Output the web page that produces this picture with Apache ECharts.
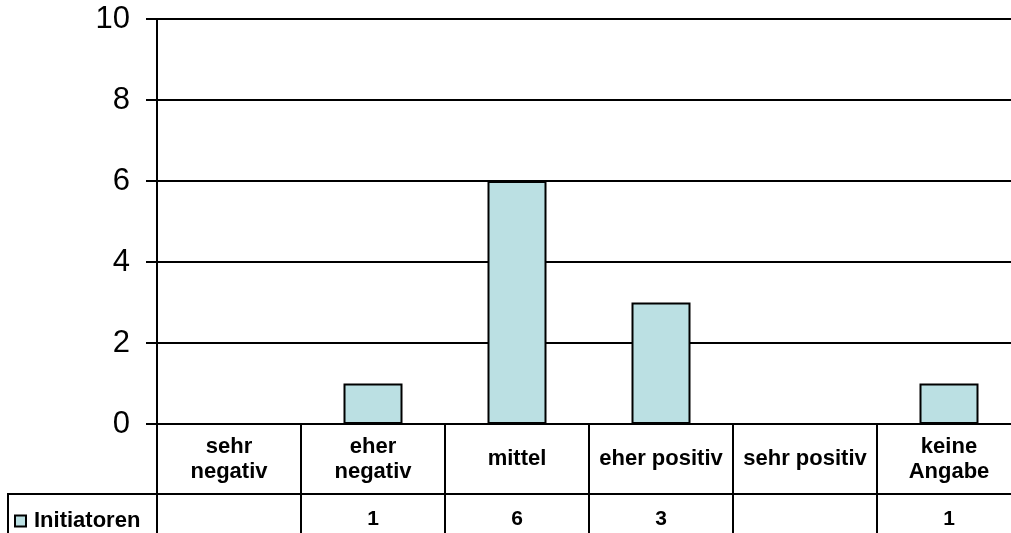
<!DOCTYPE html>
<html>
<head>
<meta charset="utf-8">
<script src="https://cdn.jsdelivr.net/npm/echarts@6/dist/echarts.min.js"></script>
<style>
  html, body { margin: 0; padding: 0; background: #fff; overflow: hidden; }
  /* the plot area runs slightly past the right edge of the window */
  #chart { width: 1022px; height: 533px; }
</style>
</head>
<body>
<div id="chart"></div>
<script>
// Bewertung der Initiatoren (Anzahl Nennungen)
const categories = ['sehr\nnegativ', 'eher\nnegativ', 'mittel', 'eher positiv', 'sehr positiv', 'keine\nAngabe'];
const seriesName = 'Initiatoren';
const values = [null, 1, 6, 3, null, 1];
const yTicks = { min: 0, max: 10, interval: 2 };

const FONT = '"Liberation Sans", Arial, sans-serif';
const BAR_COLOR = '#bbe0e3';
const LINE = { color: '#000', width: 2 };

const chart = echarts.init(document.getElementById('chart'), null, { renderer: 'canvas' });

chart.setOption({
  animation: false,
  backgroundColor: '#fff',
  grid: { left: 157, top: 19, right: 1, bottom: 109, containLabel: false },
  legend: {
    data: [seriesName],
    left: 9, top: 505,
    padding: 5,
    icon: 'rect',
    itemWidth: 11, itemHeight: 11, itemGap: 4,
    textStyle: { fontFamily: FONT, fontWeight: 'bold', fontSize: 22, color: '#000', padding: [0, 0, 0, 3] },
    selectedMode: false
  },
  xAxis: [
    {
      type: 'category',
      data: categories,
      position: 'bottom',
      boundaryGap: true,
      axisLine: { show: true, lineStyle: LINE },
      axisTick: { show: true, length: 110, lineStyle: LINE, alignWithLabel: false },
      axisLabel: {
        interval: 0,
        margin: 35,
        verticalAlign: 'middle',
        lineHeight: 25,
        fontFamily: FONT, fontWeight: 'bold', fontSize: 22, color: '#000'
      }
    },
    {
      // Datentabelle: Zeile mit den Werten
      type: 'category',
      data: categories,
      position: 'bottom',
      offset: 70,
      boundaryGap: true,
      axisLine: { show: true, lineStyle: LINE },
      axisTick: { show: false },
      axisLabel: {
        interval: 0,
        margin: 25,
        verticalAlign: 'middle',
        fontFamily: FONT, fontWeight: 'bold', fontSize: 21, color: '#000',
        formatter: (v, i) => (values[i] == null ? '' : String(values[i]))
      }
    }
  ],
  yAxis: {
    type: 'value',
    min: yTicks.min, max: yTicks.max, interval: yTicks.interval,
    axisLine: { show: true, lineStyle: LINE },
    axisTick: { show: true, length: 11, lineStyle: LINE },
    splitLine: { show: true, lineStyle: LINE },
    axisLabel: { margin: 27, fontFamily: FONT, fontSize: 31, color: '#000' }
  },
  series: [{
    name: seriesName,
    type: 'bar',
    xAxisIndex: 0,
    data: values,
    barWidth: 59,
    itemStyle: { color: BAR_COLOR, borderColor: '#000', borderWidth: 2 }
  }],
  graphic: [{
    // Rahmen der Legendenzelle links neben der Datentabelle
    type: 'polyline',
    shape: { points: [[8, 540], [8, 494], [157, 494]] },
    style: { stroke: '#000', lineWidth: 2, fill: null },
    z: 10
  }]
});
</script>
</body>
</html>
